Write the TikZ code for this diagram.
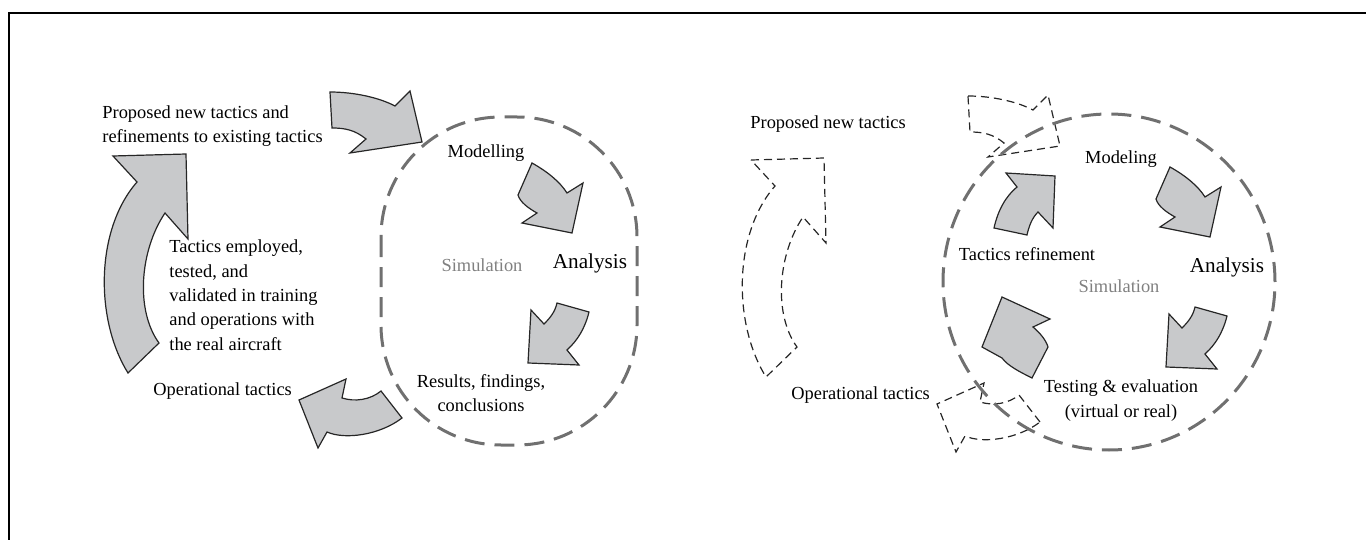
\documentclass[tikz,border=0pt]{standalone}
\usepackage{fontspec}
\setmainfont{Liberation Serif}
\definecolor{arrowgray}{RGB}{200,201,203}
\definecolor{ringgray}{RGB}{112,112,112}
\definecolor{labelgray}{RGB}{128,128,128}

\begin{document}
\begin{tikzpicture}[x=0.5pt,y=-0.5pt,
    shade arrow/.style={draw=black!85,line width=0.6pt,fill=arrowgray},
    ghost arrow/.style={draw=black!85,line width=0.6pt,dash pattern=on 4pt off 2.5pt},
    sim ring/.style={draw=ringgray,line width=1.5pt,dash pattern=on 10pt off 5pt},
    lbl/.style={inner sep=0pt,font=\fontsize{9.2}{12.2}\selectfont},
    big lbl/.style={inner sep=0pt,font=\fontsize{10.6}{12.6}\selectfont}]
    \useasboundingbox (0,0) rectangle (1366,540);
    \draw[line width=1pt] (9,540) -- (9,13) -- (1366,13);

    % outer loop arrows: solid on the left, dashed copy on the right
    \foreach \sx/\sy/\st in {0/0/shade arrow, 638/4/ghost arrow} {
        \begin{scope}[shift={(\sx,\sy)}]
            \draw[\st] (113,156) -- (186,154) -- (188,239) -- (165,213)
                .. controls (140,250) and (135,310) .. (159,343) -- (128,373)
                .. controls (95,320) and (95,230) .. (137,182) -- cycle;
            \draw[\st] (330,92) .. controls (355,92) and (380,98) .. (395,106)
                -- (410,91) -- (422,142) -- (350,153) -- (366,139)
                .. controls (355,130) and (345,128) .. (332,128) -- cycle;
            \draw[\st] (402,418) -- (381,391) .. controls (370,400) and (355,402) .. (342,398)
                -- (346,379) -- (299,400) -- (318,448) -- (327,432)
                .. controls (345,440) and (380,435) .. (402,418) -- cycle;
        \end{scope}
    }

    % inner arrows of both simulation loops
    \foreach \sx/\sy in {0/0, 638/4} {
        \begin{scope}[shift={(\sx,\sy)}]
            \draw[shade arrow] (532,163) .. controls (548,172) and (560,182) .. (567,193)
                -- (583,183) -- (572,233) -- (522,223) -- (537,213)
                .. controls (528,208) and (520,202) .. (518,195) -- cycle;
            \draw[shade arrow] (557,303) -- (589,312) .. controls (585,328) and (578,340) .. (567,350)
                -- (579,365) -- (528,363) -- (531,310) -- (544,324)
                .. controls (550,318) and (555,312) .. (557,303) -- cycle;
        \end{scope}
    }
    \draw[shade arrow] (1002,297) -- (1050,319) -- (1033,327)
        .. controls (1040,333) and (1046,340) .. (1048,347) -- (1032,378)
        .. controls (1020,372) and (1008,366) .. (1002,358) -- (982,347) -- cycle;
    \draw[shade arrow] (1006,173) -- (1055,176) -- (1053,228) -- (1038,212)
        .. controls (1032,218) and (1029,226) .. (1027,235) -- (994,228)
        .. controls (998,210) and (1006,196) .. (1017,187) -- cycle;

    % simulation rings
    \draw[sim ring,rounded corners=60pt] (381,117) rectangle (637,445);
    \draw[sim ring] (1109,282) ellipse [x radius=83pt,y radius=84pt];

    % left loop
    \node[lbl,anchor=base west,align=left,font=\fontsize{9.2}{12.5}\selectfont] (proposed) at (102,143)
        {Proposed new tactics and\\refinements to existing tactics};
    \node[lbl,anchor=base west,align=left,font=\fontsize{9.2}{12.15}\selectfont] (employed) at (169,350)
        {Tactics employed,\\tested, and\\validated in training\\and operations with\\the real aircraft};
    \node[lbl,anchor=base west] (operational) at (153,395) {Operational tactics};
    \node[lbl,anchor=base] (modelling) at (486,157) {Modelling};
    \node[lbl,anchor=base,text=labelgray] (simulation) at (482,271) {Simulation};
    \node[big lbl,anchor=base] (analysis) at (590,268) {Analysis};
    \node[lbl,anchor=base,align=center,font=\fontsize{9.2}{11.6}\selectfont] (results) at (481,411)
        {Results, findings,\\conclusions};

    % right loop
    \node[lbl,anchor=base west] (proposedr) at (750,129) {Proposed new tactics};
    \node[lbl,anchor=base west] (operationalr) at (791,399) {Operational tactics};
    \node[lbl,anchor=base] (modeling) at (1121,163) {Modeling};
    \node[lbl,anchor=base] (refinement) at (1027,260) {Tactics refinement};
    \node[big lbl,anchor=base] (analysisr) at (1227,272) {Analysis};
    \node[lbl,anchor=base,text=labelgray] (simulationr) at (1119,292) {Simulation};
    \node[lbl,anchor=base,align=center,font=\fontsize{9.2}{12.5}\selectfont] (testing) at (1121,417)
        {Testing \& evaluation\\(virtual or real)};
\end{tikzpicture}
\end{document}
